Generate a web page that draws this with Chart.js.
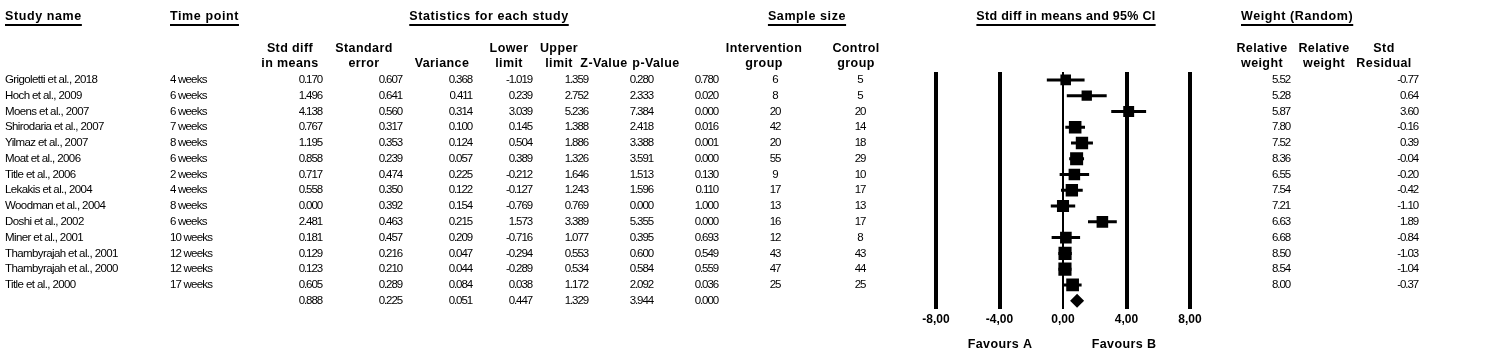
<!DOCTYPE html>
<html>
<head>
<meta charset="utf-8">
<title>Forest plot</title>
<script src="https://cdn.jsdelivr.net/npm/chart.js@4.4.1/dist/chart.umd.min.js"></script>
<style>
  html, body { margin: 0; padding: 0; background: #fff; }
  #wrap { width: 1489px; height: 360px; }
</style>
</head>
<body>
<div id="wrap"><canvas id="forest" width="1489" height="360"></canvas></div>
<script>
// ── Data ─────────────────────────────────────────────────────────────────────

const studies = [
  'Grigoletti et al., 2018', 'Hoch et al., 2009', 'Moens et al., 2007', 'Shirodaria et al., 2007',
  'Yilmaz et al., 2007', 'Moat et al., 2006', 'Title et al., 2006', 'Lekakis et al., 2004',
  'Woodman et al., 2004', 'Doshi et al., 2002', 'Miner et al., 2001', 'Thambyrajah et al., 2001',
  'Thambyrajah et al., 2000', 'Title et al., 2000'
];
const timePoints = ['4 weeks', '6 weeks', '6 weeks', '7 weeks', '8 weeks', '6 weeks', '2 weeks',
  '4 weeks', '8 weeks', '6 weeks', '10 weeks', '12 weeks', '12 weeks', '17 weeks'];
const stdDiff  = [0.170, 1.496, 4.138, 0.767, 1.195, 0.858, 0.717, 0.558, 0.000, 2.481, 0.181, 0.129, 0.123, 0.605];
const stdErr   = [0.607, 0.641, 0.560, 0.317, 0.353, 0.239, 0.474, 0.350, 0.392, 0.463, 0.457, 0.216, 0.210, 0.289];
const variance = [0.368, 0.411, 0.314, 0.100, 0.124, 0.057, 0.225, 0.122, 0.154, 0.215, 0.209, 0.047, 0.044, 0.084];
const lowerLim = [-1.019, 0.239, 3.039, 0.145, 0.504, 0.389, -0.212, -0.127, -0.769, 1.573, -0.716, -0.294, -0.289, 0.038];
const upperLim = [1.359, 2.752, 5.236, 1.388, 1.886, 1.326, 1.646, 1.243, 0.769, 3.389, 1.077, 0.553, 0.534, 1.172];
const zValue   = [0.280, 2.333, 7.384, 2.418, 3.388, 3.591, 1.513, 1.596, 0.000, 5.355, 0.395, 0.600, 0.584, 2.092];
const pValue   = [0.780, 0.020, 0.000, 0.016, 0.001, 0.000, 0.130, 0.110, 1.000, 0.000, 0.693, 0.549, 0.559, 0.036];
const nIntervention = [6, 8, 20, 42, 20, 55, 9, 17, 13, 16, 12, 43, 47, 25];
const nControl      = [5, 5, 20, 14, 18, 29, 10, 17, 13, 17, 8, 43, 44, 25];
const relWeight   = [5.52, 5.28, 5.87, 7.80, 7.52, 8.36, 6.55, 7.54, 7.21, 6.63, 6.68, 8.50, 8.54, 8.00];
const stdResidual = [-0.77, 0.64, 3.60, -0.16, 0.39, -0.04, -0.20, -0.42, -1.10, 1.89, -0.84, -1.03, -1.04, -0.37];

// Gesamteffekt (Random)
const summaryStats = [0.888, 0.225, 0.051, 0.447, 1.329, 3.944, 0.000]; // est, se, var, lo, hi, z, p

const xTicks = [-8, -4, 0, 4, 8];
const favourLabels = ['Favours A', 'Favours B'];

// ── Layout (nur Positionen/Stile) ───────────────────────────────────────────

const HEAD_FONT = 'bold 12.5px "Liberation Sans", Arial, sans-serif';
const DATA_FONT = '11.5px "Liberation Sans", Arial, sans-serif';
const COL = {
  name: 5, time: 170,
  stdDiff: 322, stdErr: 402, variance: 472, lower: 532, upper: 588, z: 653, p: 718,
  nInt: 775, nCtl: 860, weight: 1290, resid: 1418
};

// ── Helpers ─────────────────────────────────────────────────────────────────

function drawText(ctx, txt, x, y, align, font, spacing) {
  ctx.font = font;
  ctx.letterSpacing = spacing || '0px';
  ctx.textAlign = align;
  ctx.fillText(txt, x, y);
}

function drawHeader(ctx, txt, x, y, align, underline, spacing) {
  drawText(ctx, txt, x, y, align, HEAD_FONT, spacing || '0.6px');
  if (!underline) return;
  const w = ctx.measureText(txt).width;
  const x0 = align === 'center' ? x - w / 2 : x;
  ctx.fillRect(x0, y + 7, w, 2);
}

// ── Table + Diamond Plugin ──────────────────────────────────────────────────

const tablePlugin = {
  id: 'forestTable',
  afterDraw(chart) {
    const ctx = chart.ctx;
    const xs = chart.scales.x;
    const ys = chart.scales.y;
    ctx.save();
    ctx.fillStyle = '#000';
    ctx.textBaseline = 'middle';

    // Gruppen-Header
    drawHeader(ctx, 'Study name', COL.name, 17, 'left', true);
    drawHeader(ctx, 'Time point', COL.time, 17, 'left', true);
    drawHeader(ctx, 'Statistics for each study', 489, 17, 'center', true);
    drawHeader(ctx, 'Sample size', 807, 17, 'center', true);
    drawHeader(ctx, 'Std diff in means and 95% CI', 1066, 17, 'center', true, '0.3px');
    drawHeader(ctx, 'Weight (Random)', 1241, 17, 'left', true);

    // Spalten-Header (2 Zeilen)
    const sub = [
      ['Std diff', 'in means', 290], ['Standard', 'error', 364], ['', 'Variance', 442],
      ['Lower', 'limit', 509], ['Upper', 'limit', 559], ['', 'Z-Value', 604], ['', 'p-Value', 656],
      ['Intervention', 'group', 764], ['Control', 'group', 856],
      ['Relative', 'weight', 1262], ['Relative', 'weight', 1324], ['Std', 'Residual', 1384]
    ];
    sub.forEach(([l1, l2, cx]) => {
      if (l1) drawHeader(ctx, l1, cx, 49, 'center', false, '0.4px');
      drawHeader(ctx, l2, cx, 64, 'center', false, '0.4px');
    });

    // Studienzeilen
    const num = '-1.1px';
    studies.forEach((name, i) => {
      const py = ys.getPixelForValue(i);
      drawText(ctx, name, COL.name, py, 'left', DATA_FONT, '-0.6px');
      drawText(ctx, timePoints[i], COL.time, py, 'left', DATA_FONT, '-0.8px');
      drawText(ctx, stdDiff[i].toFixed(3), COL.stdDiff, py, 'right', DATA_FONT, num);
      drawText(ctx, stdErr[i].toFixed(3), COL.stdErr, py, 'right', DATA_FONT, num);
      drawText(ctx, variance[i].toFixed(3), COL.variance, py, 'right', DATA_FONT, num);
      drawText(ctx, lowerLim[i].toFixed(3), COL.lower, py, 'right', DATA_FONT, num);
      drawText(ctx, upperLim[i].toFixed(3), COL.upper, py, 'right', DATA_FONT, num);
      drawText(ctx, zValue[i].toFixed(3), COL.z, py, 'right', DATA_FONT, num);
      drawText(ctx, pValue[i].toFixed(3), COL.p, py, 'right', DATA_FONT, num);
      drawText(ctx, String(nIntervention[i]), COL.nInt, py, 'center', DATA_FONT, num);
      drawText(ctx, String(nControl[i]), COL.nCtl, py, 'center', DATA_FONT, num);
      drawText(ctx, relWeight[i].toFixed(2), COL.weight, py, 'right', DATA_FONT, num);
      drawText(ctx, stdResidual[i].toFixed(2), COL.resid, py, 'right', DATA_FONT, num);
    });

    // Summenzeile
    const sy = ys.getPixelForValue(studies.length);
    const sumCols = [COL.stdDiff, COL.stdErr, COL.variance, COL.lower, COL.upper, COL.z, COL.p];
    summaryStats.forEach((v, k) => drawText(ctx, v.toFixed(3), sumCols[k], sy, 'right', DATA_FONT, num));

    // Diamant ueber die x-Skala
    const [est, , , lo, hi] = summaryStats;
    ctx.beginPath();
    ctx.moveTo(xs.getPixelForValue(lo), sy);
    ctx.lineTo(xs.getPixelForValue(est), sy - 7);
    ctx.lineTo(xs.getPixelForValue(hi), sy);
    ctx.lineTo(xs.getPixelForValue(est), sy + 7);
    ctx.closePath();
    ctx.fill();

    // Favours-Beschriftung
    drawText(ctx, favourLabels[0], 1000, 345, 'center', HEAD_FONT, '0.4px');
    drawText(ctx, favourLabels[1], 1124, 345, 'center', HEAD_FONT, '0.4px');
    ctx.restore();
  }
};

// ── Chart ───────────────────────────────────────────────────────────────────

const ciData = [];
studies.forEach((_, i) => {
  ciData.push({ x: lowerLim[i], y: i }, { x: upperLim[i], y: i }, { x: null, y: null });
});
const pointData = stdDiff.map((v, i) => ({ x: v, y: i }));

new Chart(document.getElementById('forest'), {
  type: 'scatter',
  data: {
    datasets: [
      {
        data: ciData,
        showLine: true,
        spanGaps: false,
        borderColor: '#000',
        borderWidth: 3,
        pointRadius: 0,
        pointHoverRadius: 0
      },
      {
        data: pointData,
        pointStyle: 'rect',
        // Flaeche proportional zum Gewicht
        pointRadius: ctx => 4.5 * Math.sqrt(relWeight[ctx.dataIndex]) / Math.SQRT2,
        backgroundColor: '#000',
        borderWidth: 0
      }
    ]
  },
  options: {
    responsive: false,
    animation: false,
    devicePixelRatio: 1,
    layout: { padding: { left: 936, right: 299, top: 72, bottom: 29 } },
    plugins: { legend: { display: false }, tooltip: { enabled: false } },
    scales: {
      x: {
        type: 'linear',
        min: -8,
        max: 8,
        afterBuildTicks: axis => { axis.ticks = xTicks.map(v => ({ value: v })); },
        ticks: {
          color: '#000',
          padding: 4,
          maxRotation: 0,
          font: { family: '"Liberation Sans", Arial, sans-serif', size: 12, weight: 'bold' },
          callback: v => v.toFixed(2).replace('.', ',')
        },
        grid: {
          color: '#000',
          lineWidth: ctx => (ctx.tick && ctx.tick.value === 0 ? 2 : 4),
          drawTicks: false
        },
        border: { display: false }
      },
      y: {
        display: false,
        min: -0.5,
        max: studies.length + 0.5,
        reverse: true
      }
    }
  },
  plugins: [tablePlugin]
});
</script>
</body>
</html>
